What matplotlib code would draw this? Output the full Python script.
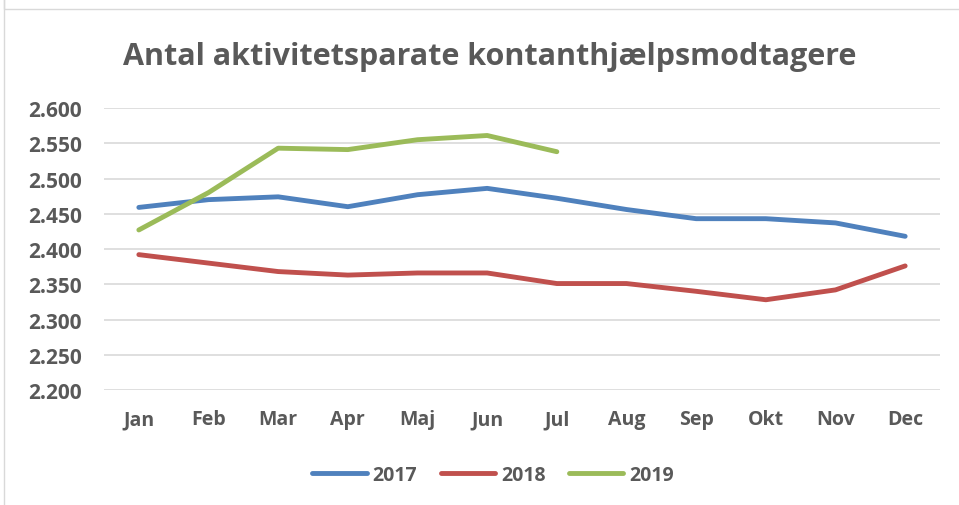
import matplotlib
matplotlib.use("Agg")
import matplotlib.pyplot as plt
from matplotlib.patches import Rectangle

months = ["Jan", "Feb", "Mar", "Apr", "Maj", "Jun", "Jul", "Aug", "Sep", "Okt", "Nov", "Dec"]
y2017 = [2459, 2470, 2474, 2460, 2477, 2486, 2472, 2456, 2443, 2443, 2437, 2418]
y2018 = [2392, 2380, 2368, 2363, 2366, 2366, 2351, 2351, 2340, 2328, 2342, 2376]
y2019 = [2427, 2480, 2543, 2541, 2555, 2561, 2538]
yticks = [2200, 2250, 2300, 2350, 2400, 2450, 2500, 2550, 2600]

plt.rcParams['font.family'] = ['Open Sans', 'DejaVu Sans']
txt = '#595959'

fig = plt.figure(figsize=(9.59, 5.06), dpi=100)
W, H = 959, 506
ax = fig.add_axes([104 / W, 1 - 391 / H, (940 - 104) / W, (391 - 109) / H])

ax.plot(range(len(y2017)), y2017, color='#4F81BD', lw=3.5, label='2017', solid_capstyle='round')
ax.plot(range(len(y2018)), y2018, color='#C0504D', lw=3.5, label='2018', solid_capstyle='round')
ax.plot(range(len(y2019)), y2019, color='#9BBB59', lw=3.5, label='2019', solid_capstyle='round')

ax.set_xlim(-0.5, 11.5)
ax.set_ylim(2200, 2600)
ax.set_yticks(yticks)
ax.set_yticklabels(['{:,.3f}'.format(v / 1000) for v in yticks])
ax.set_xticks(range(12))
ax.set_xticklabels(months)
ax.grid(axis='y', color='#d9d9d9', lw=1.2)
ax.set_axisbelow(True)
for s in ax.spines.values():
    s.set_visible(False)
ax.tick_params(length=0, labelcolor=txt)
ax.tick_params(axis='y', pad=16, labelsize=15)
ax.tick_params(axis='x', pad=14, labelsize=14)
for lab in ax.get_xticklabels() + ax.get_yticklabels():
    lab.set_fontweight('bold')

fig.text(490 / W, 1 - 65 / H, 'Antal aktivitetsparate kontanthjælpsmodtagere',
         ha='center', va='baseline', fontsize=22, fontweight='bold', color=txt)

leg = fig.legend(loc='center', bbox_to_anchor=(493 / W, 1 - 476 / H), ncol=3, frameon=False,
                 prop={'size': 14, 'weight': 'bold'}, handlelength=2.8, columnspacing=1.2,
                 handletextpad=0.3)
for t in leg.get_texts():
    t.set_color(txt)

# thin frame as in the screenshot
fig.patches.append(Rectangle((4 / W, -0.01), 2, 1.02, transform=fig.transFigure,
                             fill=False, edgecolor='#d9d9d9', lw=1))
fig.patches.append(Rectangle((4 / W, 1 - 10 / H), 2, 1, transform=fig.transFigure,
                             fill=False, edgecolor='#d9d9d9', lw=1))

fig.savefig('out.png', dpi=100)
